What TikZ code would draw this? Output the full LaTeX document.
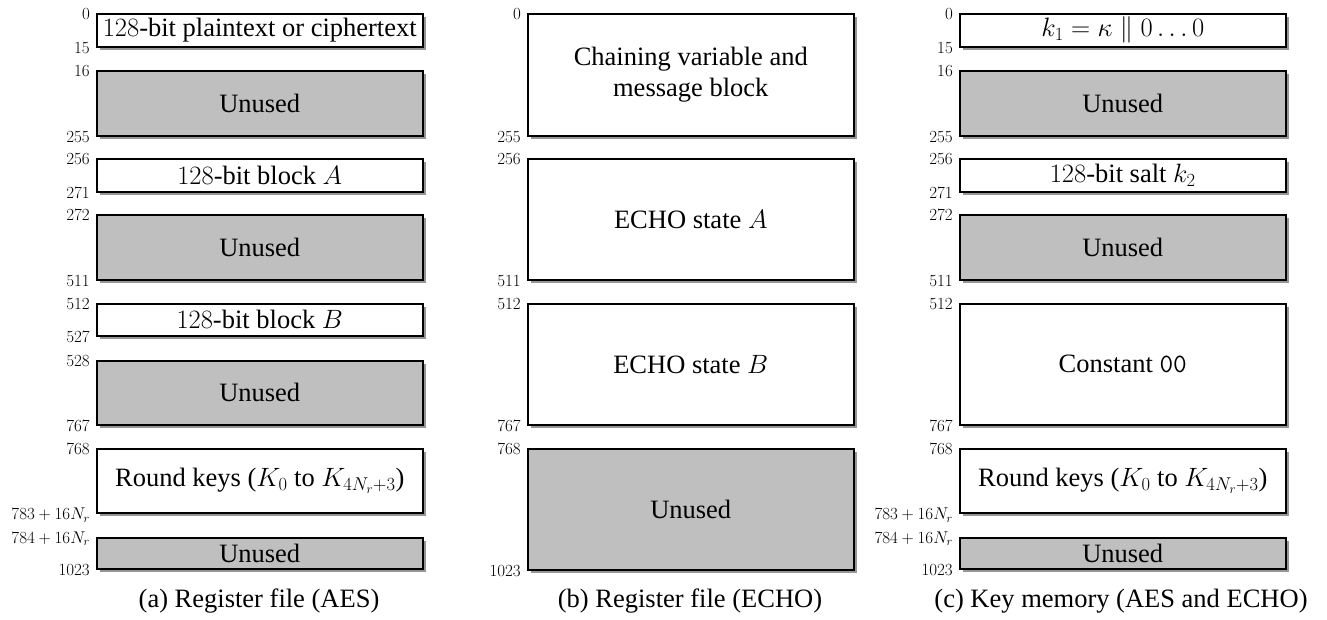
\RequirePackage{fix-cm}
\documentclass[tikz,border=0pt]{standalone}
\usepackage{fontspec}
\setmainfont{Liberation Serif}
\usetikzlibrary{shadows}

\tikzset{
  cell/.style={draw, line width=1.5pt, minimum width=326pt, inner sep=0pt,
    anchor=north west, align=center, font=\fontsize{26.5}{31}\selectfont,
    drop shadow={shadow xshift=3pt, shadow yshift=-3pt, fill=black!55, opacity=0.75}},
  used/.style={cell, fill=white},
  unused/.style={cell, fill=black!25},
  addr/.style={anchor=base east, inner sep=0pt, font=\fontsize{17}{19}\selectfont},
  capt/.style={inner sep=0pt, font=\fontsize{26.5}{31}\selectfont}
}

% place an address label at the top-left / bottom-left corner of a cell
\newcommand{\addrtop}[2]{\node[addr] at ([xshift=-6pt,yshift=-6pt]#1.north west) {$#2$};}
\newcommand{\addrbot}[2]{\node[addr] at ([xshift=-6pt,yshift=-6pt]#1.south west) {$#2$};}

\begin{document}
\begin{tikzpicture}[x=1pt, y=-1pt]
\useasboundingbox (0,0) rectangle (1327,619);

% (a) Register file (AES)
\node[used,   minimum height=33pt] (a1) at (96,13)  {$128$-bit plaintext or ciphertext};
\node[unused, minimum height=65pt] (a2) at (96,70)  {Unused};
\node[used,   minimum height=33pt] (a3) at (96,158) {$128$-bit block $A$};
\node[unused, minimum height=65pt] (a4) at (96,214) {Unused};
\node[used,   minimum height=32pt] (a5) at (96,303) {$128$-bit block $B$};
\node[unused, minimum height=64pt] (a6) at (96,360) {Unused};
\node[used,   minimum height=64pt] (a7) at (96,448) {Round keys ($K_0$ to $K_{4N_r+3}$)};
\node[unused, minimum height=31pt] (a8) at (96,537) {Unused};
\addrtop{a1}{0}   \addrbot{a1}{15}
\addrtop{a2}{16}  \addrbot{a2}{255}
\addrtop{a3}{256} \addrbot{a3}{271}
\addrtop{a4}{272} \addrbot{a4}{511}
\addrtop{a5}{512} \addrbot{a5}{527}
\addrtop{a6}{528} \addrbot{a6}{767}
\addrtop{a7}{768} \addrbot{a7}{783+16N_r}
\addrtop{a8}{784+16N_r} \addrbot{a8}{1023}
\node[capt] (capa) at (259,601) {(a) Register file (AES)};

% (b) Register file (ECHO)
\node[used,   minimum height=122pt] (b1) at (527,13)  {Chaining variable and\\message block};
\node[used,   minimum height=121pt] (b2) at (527,158) {ECHO state $A$};
\node[used,   minimum height=121pt] (b3) at (527,303) {ECHO state $B$};
\node[unused, minimum height=121pt] (b4) at (527,448) {Unused};
\addrtop{b1}{0}   \addrbot{b1}{255}
\addrtop{b2}{256} \addrbot{b2}{511}
\addrtop{b3}{512} \addrbot{b3}{767}
\addrtop{b4}{768} \addrbot{b4}{1023}
\node[capt] (capb) at (690,601) {(b) Register file (ECHO)};

% (c) Key memory (AES and ECHO)
\node[used,   minimum height=33pt]  (c1) at (959,13)  {$k_1=\kappa\parallel 0\ldots0$};
\node[unused, minimum height=65pt]  (c2) at (959,70)  {Unused};
\node[used,   minimum height=33pt]  (c3) at (959,158) {$128$-bit salt $k_2$};
\node[unused, minimum height=65pt]  (c4) at (959,214) {Unused};
\node[used,   minimum height=121pt] (c5) at (959,303) {Constant \texttt{00}};
\node[used,   minimum height=64pt]  (c6) at (959,448) {Round keys ($K_0$ to $K_{4N_r+3}$)};
\node[unused, minimum height=31pt]  (c7) at (959,537) {Unused};
\addrtop{c1}{0}   \addrbot{c1}{15}
\addrtop{c2}{16}  \addrbot{c2}{255}
\addrtop{c3}{256} \addrbot{c3}{271}
\addrtop{c4}{272} \addrbot{c4}{511}
\addrtop{c5}{512} \addrbot{c5}{767}
\addrtop{c6}{768} \addrbot{c6}{783+16N_r}
\addrtop{c7}{784+16N_r} \addrbot{c7}{1023}
\node[capt] (capc) at (1121,601) {(c) Key memory (AES and ECHO)};
\end{tikzpicture}
\end{document}
